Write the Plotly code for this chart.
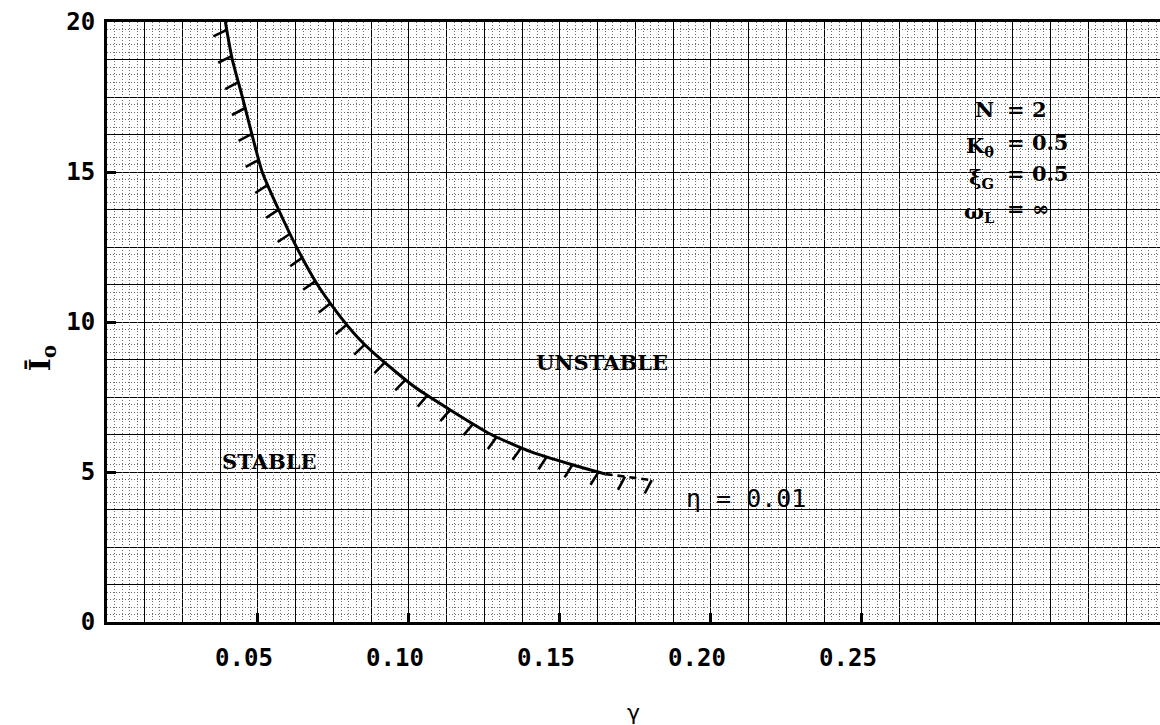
import numpy as np
import plotly.graph_objects as go

# Stability boundary for eta = 0.01 (solid portion)
gamma_boundary = [0.0392, 0.0414, 0.0449, 0.0480, 0.0514, 0.0568, 0.0626, 0.0693,
                  0.0761, 0.0828, 0.0895, 0.1018, 0.1138, 0.1272, 0.1405, 0.1538, 0.1651]
I0_boundary = [20.0, 18.79, 17.47, 16.25, 15.00, 13.75, 12.53, 11.31,
               10.33, 9.51, 8.86, 7.84, 7.06, 6.25, 5.67, 5.25, 4.93]

# Extrapolated tail of the boundary (dashed)
gamma_dashed = [0.1651, 0.1810]
I0_dashed = [4.93, 4.72]

x_tick_values = [0.05, 0.10, 0.15, 0.20, 0.25]
x_tick_labels = ["0.05", "0.10", "0.15", "0.20", "0.25"]
y_tick_values = [0, 5, 10, 15, 20]
y_tick_labels = ["0", "5", "10", "15", "20"]

# Page geometry
W, H = 1160, 725
M_L, M_R, M_T, M_B = 107, 0, 22, 98
X_RANGE = [0, 0.3487]
Y_RANGE = [0, 20]

plot_w = W - M_L - M_R
plot_h = H - M_T - M_B
sx = plot_w / (X_RANGE[1] - X_RANGE[0])   # px per unit of gamma
sy = plot_h / (Y_RANGE[1] - Y_RANGE[0])   # px per unit of I0


def hatch_segments(xs, ys, spacing=27.0, start=8.0, length=15.0):
    """Short strokes on the stable side of a curve, laid out in screen space."""
    X = np.asarray(xs) * sx
    Y = -np.asarray(ys) * sy          # screen y grows downward
    seg = np.hypot(np.diff(X), np.diff(Y))
    arc = np.concatenate([[0.0], np.cumsum(seg)])
    hx, hy = [], []
    fixed = np.array([-0.74, 0.67])
    s = start
    while s <= arc[-1]:
        i = min(np.searchsorted(arc, s, side="right") - 1, len(seg) - 1)
        t = (s - arc[i]) / seg[i]
        px = X[i] + t * (X[i + 1] - X[i])
        py = Y[i] + t * (Y[i + 1] - Y[i])
        tx, ty = (X[i + 1] - X[i]) / seg[i], (Y[i + 1] - Y[i]) / seg[i]
        d = np.array([-ty, tx]) + fixed
        d /= np.hypot(*d)
        ex, ey = px + length * d[0], py + length * d[1]
        hx += [px / sx, ex / sx, None]
        hy += [-py / sy, -ey / sy, None]
        s += spacing
    return hx, hy


all_g = gamma_boundary + gamma_dashed[1:]
all_I = I0_boundary + I0_dashed[1:]
hatch_x, hatch_y = hatch_segments(all_g, all_I)

fig = go.Figure()

# carrier for the fine graph-paper grid axes
fig.add_trace(go.Scatter(x=[None], y=[None], xaxis="x2", yaxis="y2",
                         showlegend=False, hoverinfo="skip"))

fig.add_trace(go.Scatter(x=hatch_x, y=hatch_y, mode="lines",
                         line=dict(color="black", width=2.6),
                         showlegend=False, hoverinfo="skip"))
fig.add_trace(go.Scatter(x=gamma_boundary, y=I0_boundary, mode="lines",
                         line=dict(color="black", width=3, shape="spline", smoothing=0.6),
                         showlegend=False))
fig.add_trace(go.Scatter(x=gamma_dashed, y=I0_dashed, mode="lines",
                         line=dict(color="black", width=2.6, dash="7px,5px"),
                         showlegend=False))

tick_font = dict(family="DejaVu Sans Mono", size=24, color="black", weight="bold")
serif = dict(family="DejaVu Serif", size=21, color="black", weight="bold")

fine_x = [v for v in np.round(np.arange(0, 0.35, 0.0025), 4)
          if abs(v / 0.0125 - round(v / 0.0125)) > 1e-6]
fine_y = [v for v in np.round(np.arange(0, 20.0001, 0.25), 4)
          if abs(v / 1.25 - round(v / 1.25)) > 1e-6]

fig.update_layout(
    width=W, height=H,
    margin=dict(l=M_L, r=M_R, t=M_T, b=M_B),
    plot_bgcolor="white", paper_bgcolor="white",
    showlegend=False,
    xaxis=dict(
        range=X_RANGE, tickmode="array", tickvals=x_tick_values, ticktext=x_tick_labels,
        ticks="inside", ticklen=9, tickwidth=3, tickcolor="black",
        showgrid=True, gridcolor="black", gridwidth=1.2,
        minor=dict(tickmode="linear", tick0=0, dtick=0.0125, showgrid=True,
                   gridcolor="black", gridwidth=1, ticks=""),
        showline=True, linecolor="black", linewidth=3, mirror=True, zeroline=False,
        tickfont=tick_font, ticklabelshift=-14, ticklabelstandoff=12,
        title=dict(text="γ", font=dict(family="DejaVu Sans", size=22, color="black"),
                   standoff=38),
    ),
    yaxis=dict(
        range=Y_RANGE, tickmode="array", tickvals=y_tick_values, ticktext=y_tick_labels,
        ticks="inside", ticklen=9, tickwidth=3, tickcolor="black",
        showgrid=True, gridcolor="black", gridwidth=1.2,
        minor=dict(tickmode="linear", tick0=0, dtick=1.25, showgrid=True,
                   gridcolor="black", gridwidth=1, ticks=""),
        showline=True, linecolor="black", linewidth=3, mirror=False, zeroline=False,
        tickfont=tick_font, ticklabelstandoff=4,
    ),
    xaxis2=dict(
        overlaying="x", anchor="y2", range=X_RANGE, tickmode="array", tickvals=fine_x,
        showticklabels=False, ticks="", showgrid=True, gridcolor="#6e6e6e",
        gridwidth=1, griddash="1px,2px", zeroline=False, showline=False,
    ),
    yaxis2=dict(
        overlaying="y", anchor="x2", range=Y_RANGE, tickmode="array", tickvals=fine_y,
        showticklabels=False, ticks="", showgrid=True, gridcolor="#6e6e6e",
        gridwidth=1, griddash="1px,2px", zeroline=False, showline=False,
    ),
)

annotations = [
    dict(x=0.0536, y=5.34, text="STABLE", font=serif),
    dict(x=0.1639, y=8.66, text="UNSTABLE", font=serif),
    dict(x=0.2116, y=4.13, text="η = 0.01",
         font=dict(family="DejaVu Sans Mono", size=25, color="black")),
    # parameter block, aligned on the equals signs
    dict(x=0.2945, y=17.09, text="N", font=serif, xanchor="right"),
    dict(x=0.2975, y=17.09, text="= 2", font=serif, xanchor="left"),
    dict(x=0.2945, y=15.85, text="K<sub>θ</sub>", font=serif, xanchor="right"),
    dict(x=0.2975, y=16.0, text="= 0.5", font=serif, xanchor="left"),
    dict(x=0.2945, y=14.80, text="ξ<sub>G</sub>", font=serif, xanchor="right"),
    dict(x=0.2975, y=14.94, text="= 0.5", font=serif, xanchor="left"),
    dict(x=0.2945, y=13.65, text="ω<sub>L</sub>", font=serif, xanchor="right"),
    dict(x=0.2975, y=13.79, text="= ∞", font=serif, xanchor="left"),
]
for a in annotations:
    a.setdefault("xref", "x")
    a.setdefault("yref", "y")
    a.setdefault("showarrow", False)
    a.setdefault("bgcolor", "rgba(0,0,0,0)")
    fig.add_annotation(**a)

# y-axis title placed beside the tick labels
fig.add_annotation(xref="paper", yref="paper", x=-0.081, y=0.44,
                   text="I\u0304<sub>o</sub>", textangle=-90, showarrow=False,
                   font=dict(family="DejaVu Serif", size=28, color="black", weight="bold"))

fig.write_html("out.html")
